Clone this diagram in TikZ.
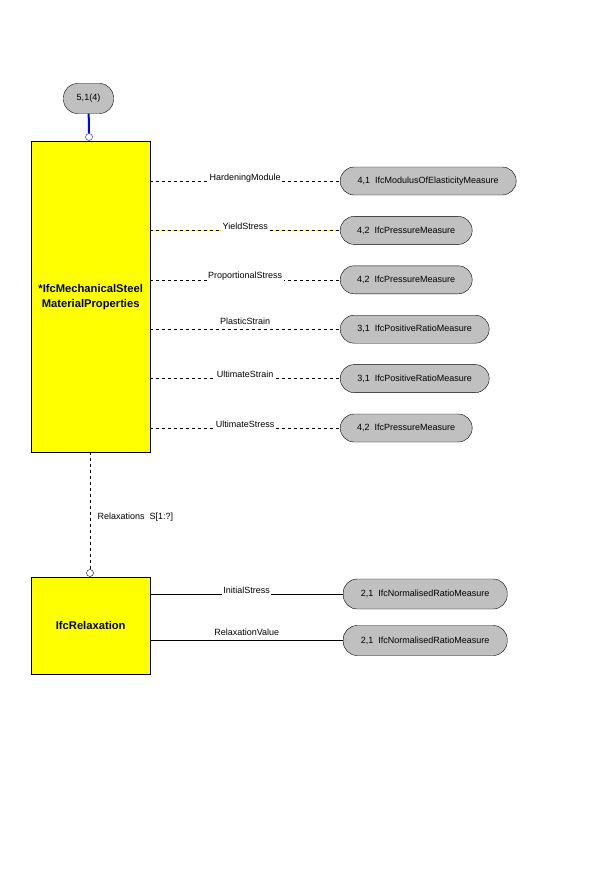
\documentclass[tikz,border=0pt]{standalone}
\usepackage{fontspec}
\setmainfont{Liberation Sans}
\usetikzlibrary{positioning}
\definecolor{entityyellow}{RGB}{255,255,0}
\definecolor{refgray}{RGB}{192,192,192}
\definecolor{linkblue}{RGB}{0,0,255}

\begin{document}
\begin{tikzpicture}[x=1pt, y=-1pt, font=\fontsize{9}{11}\selectfont,
    entity/.style={rectangle, draw, fill=entityyellow, anchor=north west, align=center,
      minimum width=119pt, font=\fontsize{11.2}{15}\selectfont\bfseries},
    typeref/.style={rectangle, rounded corners=14pt, draw, fill=refgray,
      anchor=west, minimum height=28pt, inner xsep=4pt},
    attr/.style={dash pattern=on 3pt off 3pt},
    attrlbl/.style={anchor=base, yshift=1pt, fill=white, inner xsep=1.5pt, inner ysep=1.5pt},
    freelbl/.style={anchor=base, yshift=5pt, inner sep=0pt},
    endmark/.style={circle, draw, fill=white, inner sep=0pt, minimum size=7pt}]
    \useasboundingbox (0,0) rectangle (600,888);

    \node[typeref, anchor=center, minimum width=50pt, minimum height=30pt] (refs) at (88.5,98.5) {5,1(4)};
    \node[endmark, draw=linkblue] (top) at (89,137) {};
    \draw[linkblue, line width=2pt] (refs) -- (top);

    \node[entity, minimum height=311pt] (msmp) at (31,141) {*IfcMechanicalSteel\\MaterialProperties};

    \node[typeref, minimum width=176pt] (hm) at (340,181) {4,1\ \ IfcModulusOfElasticityMeasure};
    \node[typeref, minimum width=132pt] (ys) at (340,230.4) {4,2\ \ IfcPressureMeasure};
    \node[typeref, minimum width=132pt] (ps) at (340,279.8) {4,2\ \ IfcPressureMeasure};
    \node[typeref, minimum width=149pt] (pst) at (340,329.2) {3,1\ \ IfcPositiveRatioMeasure};
    \node[typeref, minimum width=149pt] (ust) at (340,378.6) {3,1\ \ IfcPositiveRatioMeasure};
    \node[typeref, minimum width=132pt] (uss) at (340,428) {4,2\ \ IfcPressureMeasure};

    \draw[attr] (msmp.east |- hm.west) -- node[attrlbl] {HardeningModule} (hm.west);
    \draw[entityyellow] (msmp.east |- ys.west) -- (ys.west);
    \draw[attr] (msmp.east |- ys.west) -- node[attrlbl] {YieldStress} (ys.west);
    \draw[attr] (msmp.east |- ps.west) -- node[attrlbl] {ProportionalStress} (ps.west);
    \draw[attr] (msmp.east |- pst.west) -- node[freelbl] {PlasticStrain} (pst.west);
    \draw[attr] (msmp.east |- ust.west) -- node[attrlbl] {UltimateStrain} (ust.west);
    \draw[attr] (msmp.east |- uss.west) -- node[attrlbl] {UltimateStress} (uss.west);

    \node[endmark] (rel) at (90,573) {};
    \draw[attr] (msmp.south -| rel) -- node[pos=0.55, right=4pt] {Relaxations\ \ S[1:?]} (rel);

    \node[entity, minimum height=97pt] (relax) at (31,577) {IfcRelaxation};

    \node[typeref, minimum width=164pt, minimum height=30pt] (is) at (343,594) {2,1\ \ IfcNormalisedRatioMeasure};
    \node[typeref, minimum width=164pt, minimum height=30pt] (rv) at (343,640.5) {2,1\ \ IfcNormalisedRatioMeasure};

    \draw (relax.east |- is.west) -- node[attrlbl] {InitialStress} (is.west);
    \draw (relax.east |- rv.west) -- node[freelbl] {RelaxationValue} (rv.west);
\end{tikzpicture}
\end{document}
